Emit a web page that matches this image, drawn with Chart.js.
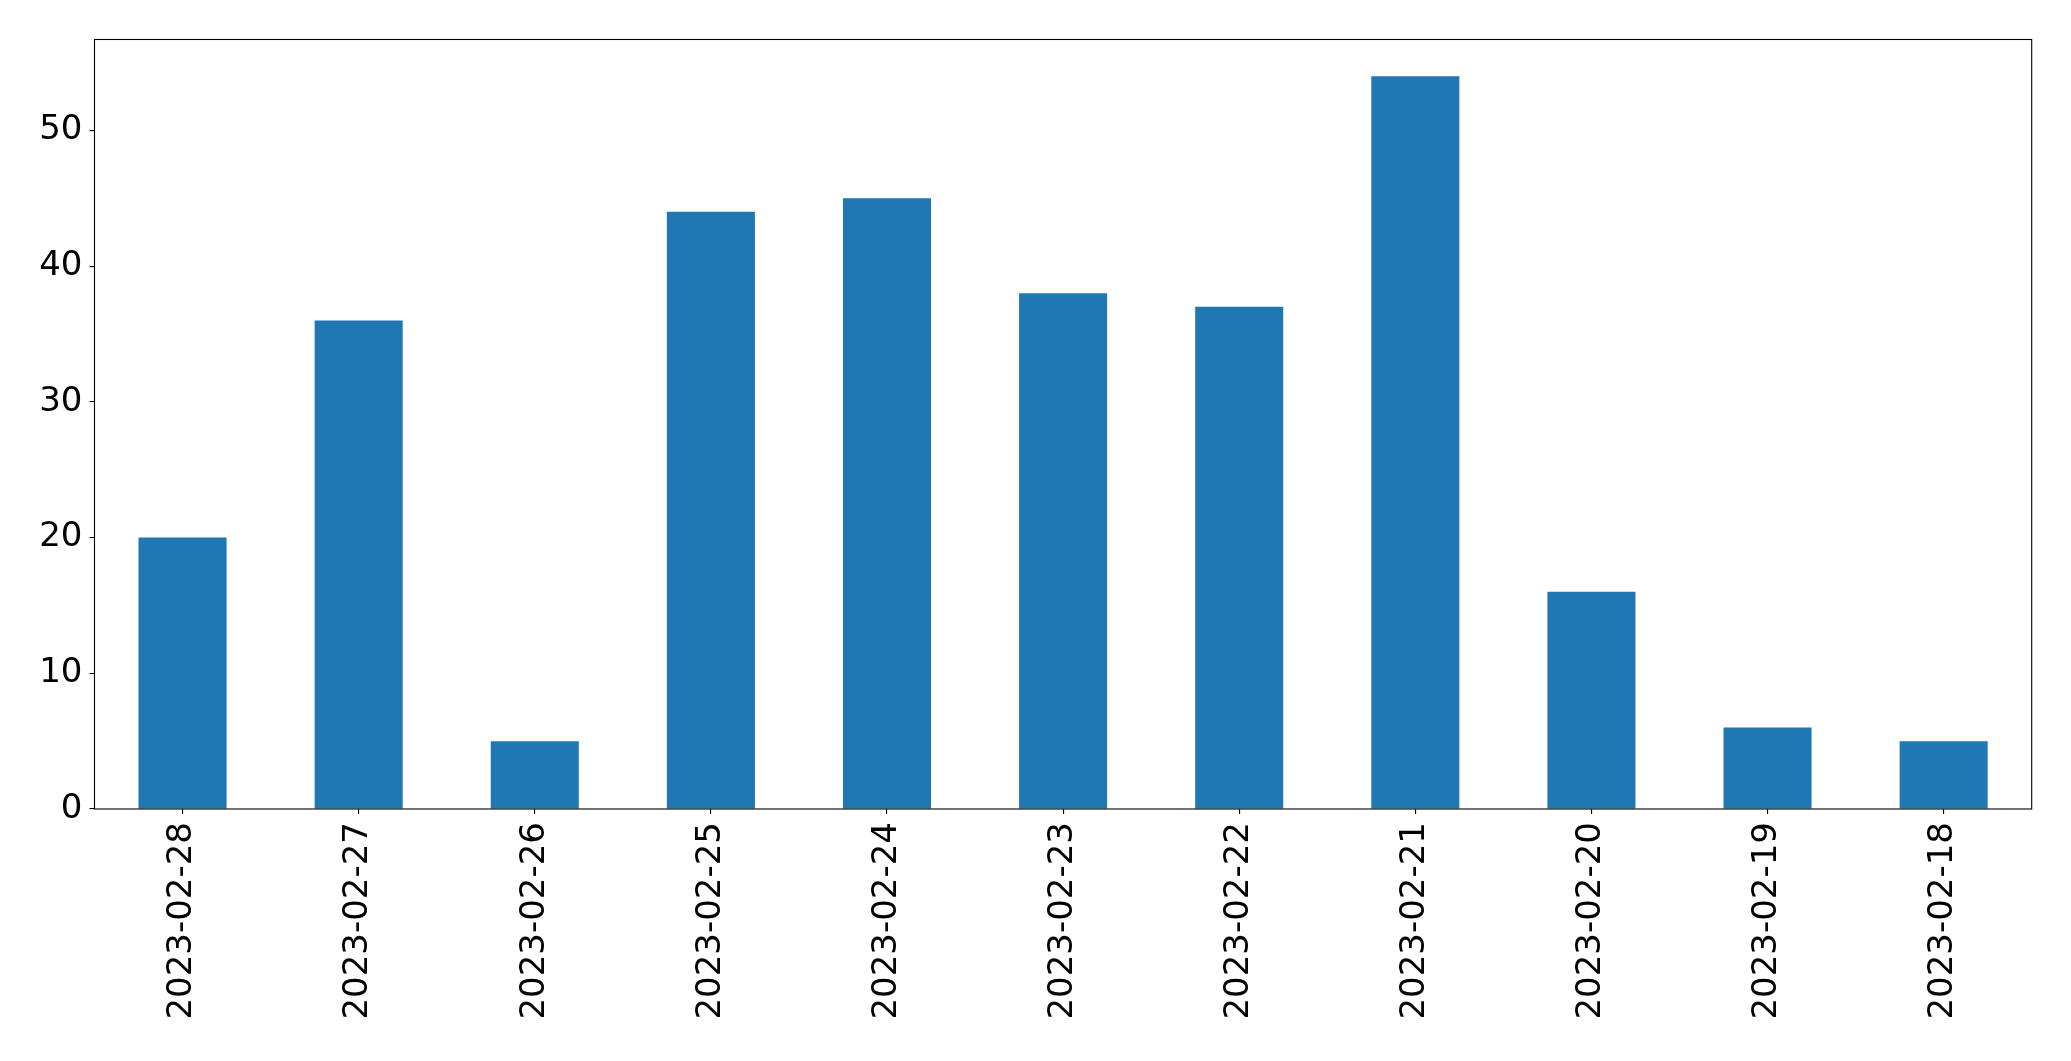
<!DOCTYPE html>
<html>
<head>
<meta charset="utf-8">
<script src="https://cdn.jsdelivr.net/npm/chart.js@4/dist/chart.umd.min.js"></script>
<style>
  html, body { margin: 0; padding: 0; background: #fff; }
  canvas { display: block; }
</style>
</head>
<body>
<canvas id="chart" width="2071" height="1061"></canvas>
<script>
const dates = ['2023-02-28', '2023-02-27', '2023-02-26', '2023-02-25', '2023-02-24', '2023-02-23',
               '2023-02-22', '2023-02-21', '2023-02-20', '2023-02-19', '2023-02-18'];
const counts = [20, 36, 5, 44, 45, 38, 37, 54, 16, 6, 5];
const yTicks = [0, 10, 20, 30, 40, 50];

const FONT = { family: 'DejaVu Sans', size: 34 };

/* ===== axes frame (matplotlib-style box) ===== */
const frame = {
    id: 'frame',
    afterDatasetsDraw(chart) {
        const { ctx, chartArea: a } = chart;
        ctx.save();
        ctx.strokeStyle = '#000';
        ctx.lineWidth = 1.1;
        ctx.strokeRect(a.left, a.top, a.right - a.left, a.bottom - a.top);
        ctx.restore();
    }
};

new Chart(document.getElementById('chart'), {
    type: 'bar',
    data: {
        labels: dates,
        datasets: [{
            data: counts,
            backgroundColor: '#1f77b4',
            categoryPercentage: 1,
            barPercentage: 0.5
        }]
    },
    plugins: [frame],
    options: {
        responsive: false,
        animation: false,
        devicePixelRatio: 1,
        layout: { padding: { left: 0, top: 39.5, right: 39.3, bottom: 0 } },
        plugins: { legend: { display: false }, tooltip: { enabled: false } },
        scales: {
            x: {
                offset: true,
                grid: { offset: false, drawOnChartArea: false, drawTicks: true, tickLength: 5, color: '#000', lineWidth: 1.1 },
                border: { display: false },
                ticks: { minRotation: 90, maxRotation: 90, autoSkip: false, padding: 8, color: '#000', font: FONT },
                afterFit: s => { s.height = 252; }
            },
            y: {
                min: 0,
                max: 56.7,
                grid: { drawOnChartArea: false, drawTicks: true, tickLength: 5, color: '#000', lineWidth: 1.1 },
                border: { display: false },
                ticks: { stepSize: 10, includeBounds: false, padding: 7, color: '#000', font: FONT },
                afterBuildTicks: s => { s.ticks = yTicks.map(v => ({ value: v })); },
                afterFit: s => { s.width = 94.5; }
            }
        }
    }
});
</script>
</body>
</html>
